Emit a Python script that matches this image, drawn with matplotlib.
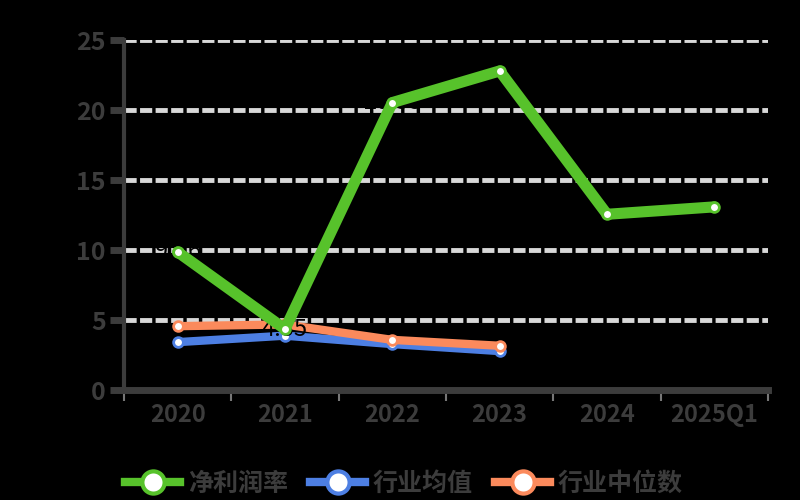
import matplotlib
matplotlib.use("Agg")
import matplotlib.pyplot as plt
from matplotlib.lines import Line2D

plt.rcParams['font.family'] = ['Noto Sans CJK SC', 'DejaVu Sans']

categories = ['2020', '2021', '2022', '2023', '2024', '2025Q1']
series_names = ['净利润率', '行业均值', '行业中位数']
company = [9.86, 4.35, 20.53, 22.79, 12.55, 13.08]
industry_avg = [3.42, 3.88, 3.28, 2.78]
industry_median = [4.56, 4.68, 3.58, 3.16]
yticks = [0, 5, 10, 15, 20, 25]

green = '#57c22b'
blue = '#4d7fe3'
orange = '#fb8a5c'
axis_c = '#3c3c3c'

fig = plt.figure(figsize=(8, 5), dpi=100, facecolor='black')
ax = fig.add_axes([0.155, 0.22, 0.805, 0.70], facecolor='black')

x = list(range(len(categories)))
ax.set_xlim(-0.5, len(categories) - 0.5)
ax.set_ylim(0, 25)

for yv in yticks[1:]:
    ax.axhline(yv, color='#d8d8d8', lw=3.5, ls=(0, (2.5, 0.7)), zorder=1)

ax.plot(x[:len(industry_avg)], industry_avg, color=blue, lw=6, marker='o', ms=7,
        mfc='white', mec=blue, mew=2, zorder=3, solid_capstyle='round')
ax.plot(x[:len(industry_median)], industry_median, color=orange, lw=6, marker='o', ms=7,
        mfc='white', mec=orange, mew=2, zorder=3, solid_capstyle='round')
ax.plot(x, company, color=green, lw=8, marker='o', ms=7,
        mfc='white', mec=green, mew=2, zorder=4, solid_capstyle='round')

for xi, v in zip(x, company):
    ax.annotate(f'{v:.2f}', (xi, v), xytext=(0, 0), textcoords='offset points',
                ha='center', va='center', fontsize=17, color='black', zorder=3.5)

for s in ['top', 'right']:
    ax.spines[s].set_visible(False)
ax.spines['left'].set_color(axis_c)
ax.spines['left'].set_linewidth(3)
ax.spines['bottom'].set_color(axis_c)
ax.spines['bottom'].set_linewidth(5)
ax.spines['bottom'].set_zorder(2)

ax.set_yticks(yticks)
ax.set_yticklabels([str(v) for v in yticks], fontsize=18, fontweight='bold', color=axis_c)
ax.tick_params(axis='y', length=10, width=5, color=axis_c, pad=3)

ax.set_xticks([i - 0.5 for i in range(len(categories) + 1)])
ax.set_xticklabels([])
ax.tick_params(axis='x', length=8, width=1.5, color='#777777')
for xi, c in zip(x, categories):
    ax.text(xi, -0.9, c, ha='center', va='top', fontsize=17, fontweight='bold',
            color=axis_c, transform=ax.transData)

handles = [Line2D([0], [0], color=col, lw=6, marker='o', ms=16, mfc='white', mec=col, mew=3)
           for col in (green, blue, orange)]
leg = fig.legend(handles, series_names, loc='center', bbox_to_anchor=(0.505, 0.032), ncol=3,
                 frameon=False, handlelength=2.2, columnspacing=0.9, handletextpad=0.3,
                 prop={'size': 18, 'weight': 'bold'})
for t in leg.get_texts():
    t.set_color(axis_c)

fig.savefig('out.png', dpi=100, facecolor='black')
